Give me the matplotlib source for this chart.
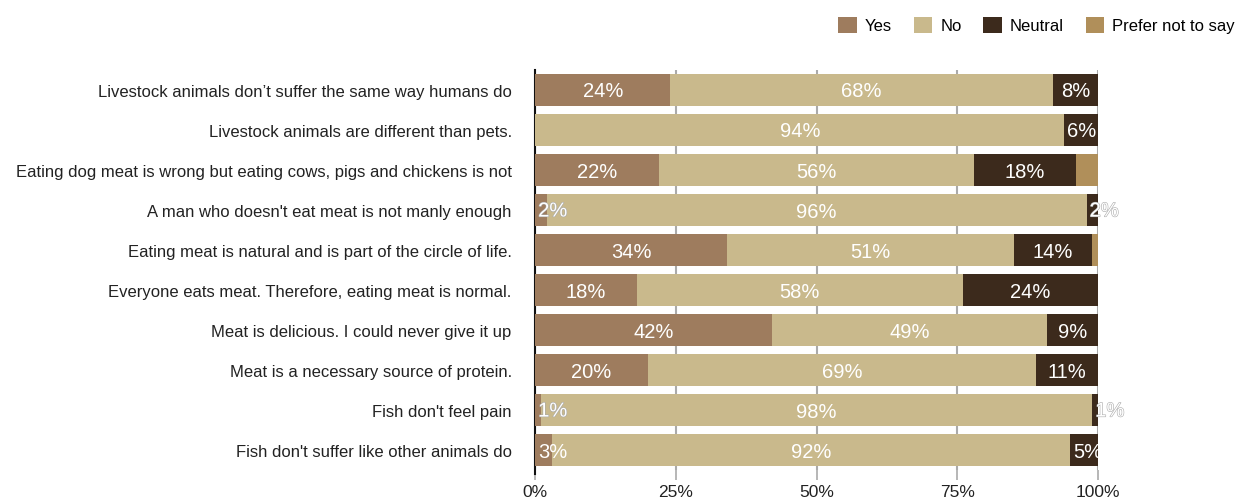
import matplotlib.pyplot as plt
import matplotlib.patheffects as pe
import numpy as np

plt.rcParams['font.family'] = ['Liberation Sans', 'DejaVu Sans']

statements = [
    'Livestock animals don\u2019t suffer the same way humans do',
    'Livestock animals are different than pets.',
    'Eating dog meat is wrong but eating cows, pigs and chickens is not',
    "A man who doesn't eat meat is not manly enough",
    'Eating meat is natural and is part of the circle of life.',
    'Everyone eats meat. Therefore, eating meat is normal.',
    'Meat is delicious. I could never give it up',
    'Meat is a necessary source of protein.',
    "Fish don't feel pain",
    "Fish don't suffer like other animals do",
]
yes = [24, 0, 22, 2, 34, 18, 42, 20, 1, 3]
no = [68, 94, 56, 96, 51, 58, 49, 69, 98, 92]
neutral = [8, 6, 18, 2, 14, 24, 9, 11, 1, 5]
prefer_not = [0, 0, 4, 0, 1, 0, 0, 0, 0, 0]

series = [('Yes', yes, '#9e7c5e', True),
          ('No', no, '#c9b98c', True),
          ('Neutral', neutral, '#3c2a1c', True),
          ('Prefer not to say', prefer_not, '#b08f5a', False)]

fig = plt.figure(figsize=(12.45, 5.02), dpi=100)
ax = fig.add_axes([0.43, 0.062, 0.452, 0.797])

y = np.arange(len(statements))
left = np.zeros(len(statements))
for name, vals, color, show in series:
    vals = np.array(vals, dtype=float)
    ax.barh(y, vals, left=left, height=0.8, color=color, label=name, zorder=3)
    if show:
        for i, v in enumerate(vals):
            if v <= 0:
                continue
            if v < 6:
                x, ha = left[i] + 0.5, 'left'
            else:
                x, ha = left[i] + v / 2, 'center'
            fx = [pe.withStroke(linewidth=0.8, foreground='#aaaaaa')] if v < 3 else None
            ax.text(x, y[i] + 0.03, f'{int(v)}%', ha=ha, va='center',
                    color='white', fontsize=14.5, zorder=5, path_effects=fx)
    left += vals

ax.set_xlim(0, 100)
ax.set_ylim(len(statements) - 0.5, -0.5)
ax.set_yticks(y)
ax.set_yticklabels(statements, fontsize=12, color='#222222')
ax.tick_params(axis='y', length=0, pad=17)
ax.set_xticks([0, 25, 50, 75, 100])
ax.set_xticklabels(['0%', '25%', '50%', '75%', '100%'], fontsize=12.5, color='#222222')
ax.tick_params(axis='x', length=7, width=1.2, color='#aaaaaa', pad=3)
ax.xaxis.grid(True, color='#aaaaaa', linewidth=1.5, zorder=0)
for s in ['top', 'right', 'bottom']:
    ax.spines[s].set_visible(False)
ax.spines['left'].set_color('#111111')
ax.spines['left'].set_linewidth(1.5)
ax.spines['left'].set_bounds(len(statements) - 0.5 + 0.1, -0.5)

fig.legend(loc='upper right', bbox_to_anchor=(1.0, 0.985), ncol=4, frameon=False,
           fontsize=12, handlelength=1.1, handleheight=1.1, handletextpad=0.5,
           columnspacing=1.3, borderaxespad=0.2)

fig.savefig('out.png', dpi=100)
